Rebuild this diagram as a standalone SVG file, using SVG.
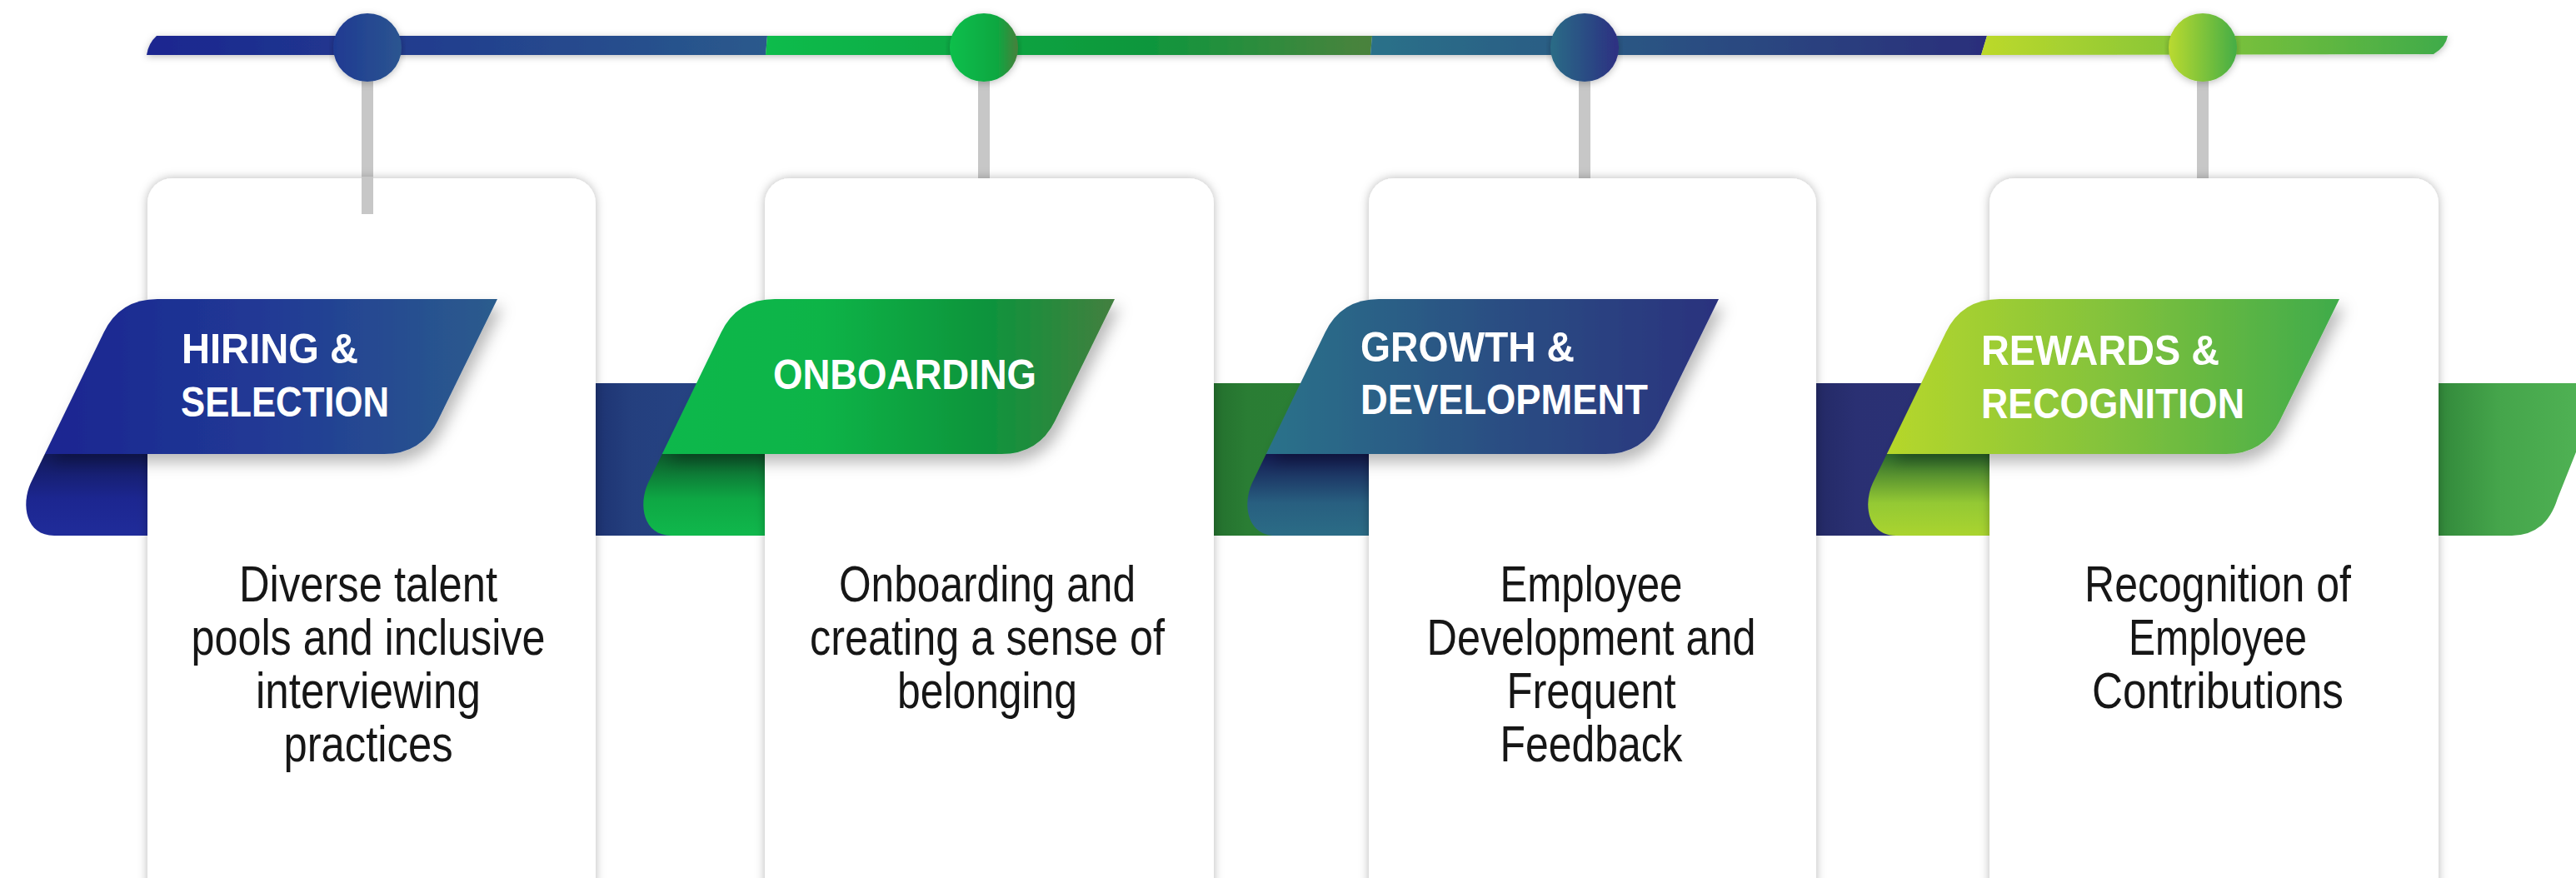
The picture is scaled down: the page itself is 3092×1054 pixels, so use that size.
<svg xmlns="http://www.w3.org/2000/svg" width="3092" height="1054" viewBox="0 0 3092 1054">
  <style>
    .card { fill: #ffffff; filter: url(#cardShadow); }
    .stem { fill: #c7c7c7; }
    .title { font-family: "Liberation Sans", Arial, sans-serif; font-weight: bold; font-size: 50px; fill: #ffffff; }
    .desc { font-family: "Liberation Sans", Arial, sans-serif; font-size: 61px; fill: #161616; text-anchor: middle; }
    .banner { filter: url(#bannerShadow); }
  </style>
  <defs>
    <filter id="cardShadow" x="-10%" y="-10%" width="120%" height="120%">
      <feDropShadow dx="0" dy="0" stdDeviation="6" flood-color="#000" flood-opacity="0.28"/>
    </filter>
    <filter id="bannerShadow" x="-10%" y="-20%" width="130%" height="160%">
      <feDropShadow dx="6" dy="10" stdDeviation="9" flood-color="#000" flood-opacity="0.28"/>
    </filter>
    <filter id="lineShadow" x="-5%" y="-60%" width="110%" height="220%">
      <feDropShadow dx="0" dy="2" stdDeviation="4" flood-color="#000" flood-opacity="0.25"/>
    </filter>

    <!-- ribbon front face and curl, drawn relative to the card's left edge -->
    <path id="face" d="M -52.4 399 Q -33 359 12 359 L 420 359 L 348.5 505 Q 328.9 545 284 545 L -123.2 545 Z"/>
    <path id="curl" d="M -123.2 545 L -140.2 580 C -152 606 -146 643 -112 643 L 2 643 L 2 545 Z"/>

    <!-- timeline segment gradients -->
    <linearGradient id="seg1" x1="0" y1="0" x2="1" y2="0">
      <stop offset="0" stop-color="#1c2690"/>
      <stop offset="1" stop-color="#2a5a8c"/>
    </linearGradient>
    <linearGradient id="seg2" x1="0" y1="0" x2="1" y2="0">
      <stop offset="0" stop-color="#0fbc4c"/>
      <stop offset="0.6" stop-color="#0a983c"/>
      <stop offset="1" stop-color="#4b823e"/>
    </linearGradient>
    <linearGradient id="seg3" x1="0" y1="0" x2="1" y2="0">
      <stop offset="0" stop-color="#2a7189"/>
      <stop offset="1" stop-color="#2c2e7b"/>
    </linearGradient>
    <linearGradient id="seg4" x1="0" y1="0" x2="1" y2="0">
      <stop offset="0" stop-color="#bcd92b"/>
      <stop offset="1" stop-color="#3fab49"/>
    </linearGradient>

    <!-- dot gradients -->
    <linearGradient id="dot1" x1="0" y1="0" x2="1" y2="0">
      <stop offset="0" stop-color="#1f3a92"/>
      <stop offset="1" stop-color="#2b5590"/>
    </linearGradient>
    <linearGradient id="dot2" x1="0" y1="0" x2="1" y2="0">
      <stop offset="0" stop-color="#0dbf4b"/>
      <stop offset="0.7" stop-color="#0ea741"/>
      <stop offset="1" stop-color="#487f3b"/>
    </linearGradient>
    <linearGradient id="dot3" x1="0" y1="0" x2="1" y2="0">
      <stop offset="0" stop-color="#2a6c86"/>
      <stop offset="1" stop-color="#2d2f82"/>
    </linearGradient>
    <linearGradient id="dot4" x1="0" y1="0" x2="1" y2="0">
      <stop offset="0" stop-color="#bada2f"/>
      <stop offset="1" stop-color="#45ad46"/>
    </linearGradient>

    <!-- ribbon face gradients -->
    <linearGradient id="face1" x1="0" y1="0" x2="1" y2="0">
      <stop offset="0" stop-color="#1b2591"/>
      <stop offset="0.5" stop-color="#213a95"/>
      <stop offset="1" stop-color="#2b5c8d"/>
    </linearGradient>
    <linearGradient id="face2" x1="0" y1="0" x2="1" y2="0">
      <stop offset="0" stop-color="#0db84c"/>
      <stop offset="0.35" stop-color="#0bb447"/>
      <stop offset="0.7" stop-color="#0a953c"/>
      <stop offset="1" stop-color="#437f3f"/>
    </linearGradient>
    <linearGradient id="face3" x1="0" y1="0" x2="1" y2="0">
      <stop offset="0" stop-color="#2b728a"/>
      <stop offset="0.5" stop-color="#2b4f83"/>
      <stop offset="1" stop-color="#2c327e"/>
    </linearGradient>
    <linearGradient id="face4" x1="0" y1="0" x2="1" y2="0">
      <stop offset="0" stop-color="#b6d72b"/>
      <stop offset="0.5" stop-color="#82c23c"/>
      <stop offset="1" stop-color="#3fab4a"/>
    </linearGradient>

    <!-- curl gradients: shaded under the fold -->
    <linearGradient id="curl1" x1="0" y1="0" x2="0" y2="1">
      <stop offset="0" stop-color="#121a5c"/>
      <stop offset="0.55" stop-color="#1c2690"/>
      <stop offset="1" stop-color="#202c9a"/>
    </linearGradient>
    <linearGradient id="curl2" x1="0" y1="0" x2="0" y2="1">
      <stop offset="0" stop-color="#0d5a2c"/>
      <stop offset="0.55" stop-color="#0ea744"/>
      <stop offset="1" stop-color="#10b84c"/>
    </linearGradient>
    <linearGradient id="curl3" x1="0" y1="0" x2="0" y2="1">
      <stop offset="0" stop-color="#141a52"/>
      <stop offset="0.6" stop-color="#285f80"/>
      <stop offset="1" stop-color="#2b6c86"/>
    </linearGradient>
    <linearGradient id="curl4" x1="0" y1="0" x2="0" y2="1">
      <stop offset="0" stop-color="#2b6a2c"/>
      <stop offset="0.6" stop-color="#94c934"/>
      <stop offset="1" stop-color="#aad42f"/>
    </linearGradient>

    <!-- back of the ribbon between cards -->
    <linearGradient id="band1" x1="0" y1="0" x2="1" y2="0">
      <stop offset="0" stop-color="#1b2f6e"/>
      <stop offset="0.25" stop-color="#243f7e"/>
      <stop offset="1" stop-color="#28498a"/>
    </linearGradient>
    <linearGradient id="band2" x1="0" y1="0" x2="1" y2="0">
      <stop offset="0" stop-color="#226d2c"/>
      <stop offset="0.25" stop-color="#2a7d34"/>
      <stop offset="1" stop-color="#2b8236"/>
    </linearGradient>
    <linearGradient id="band3" x1="0" y1="0" x2="1" y2="0">
      <stop offset="0" stop-color="#222863"/>
      <stop offset="0.25" stop-color="#2a3073"/>
      <stop offset="1" stop-color="#2b3277"/>
    </linearGradient>
    <linearGradient id="band4" x1="0" y1="0" x2="1" y2="0">
      <stop offset="0" stop-color="#2f8438"/>
      <stop offset="0.4" stop-color="#45a54b"/>
      <stop offset="1" stop-color="#52b556"/>
    </linearGradient>
  </defs>

  <rect x="0" y="0" width="3092" height="1054" fill="#ffffff"/>

  <!-- back of the ribbon, seen between the cards -->
  <g id="ribbon-back">
    <rect x="700" y="460" width="230" height="183" fill="url(#band1)"/>
    <rect x="1445" y="460" width="210" height="183" fill="url(#band2)"/>
    <rect x="2170" y="460" width="230" height="183" fill="url(#band3)"/>
    <path d="M 2915 460 L 3125 460 L 3070 598 Q 3056 643 3015 643 L 2915 643 Z" fill="url(#band4)"/>
  </g>

  <!-- folded ends of the ribbons -->
  <g id="ribbon-curls">
    <use href="#curl" transform="translate(177,0)" fill="url(#curl1)"/>
    <use href="#curl" transform="translate(918,0)" fill="url(#curl2)"/>
    <use href="#curl" transform="translate(1643,0)" fill="url(#curl3)"/>
    <use href="#curl" transform="translate(2388,0)" fill="url(#curl4)"/>
  </g>

  <!-- timeline and stems -->
  <g id="connectors">
    <g filter="url(#lineShadow)">
      <path d="M 188 43 L 921 43 L 919 66 L 176 66 Q 178 52 188 43 Z" fill="url(#seg1)"/>
      <path d="M 921 43 L 1647 43 L 1645 66 L 919 66 Z" fill="url(#seg2)"/>
      <path d="M 1647 43 L 2385 43 L 2378 66 L 1645 66 Z" fill="url(#seg3)"/>
      <path d="M 2385 43 L 2938 43 Q 2936 56 2921 65 L 2378 66 Z" fill="url(#seg4)"/>
    </g>
    <rect class="stem" x="434" y="96" width="14" height="161"/>
    <rect class="stem" x="1174" y="96" width="14" height="118"/>
    <rect class="stem" x="1895" y="96" width="14" height="118"/>
    <rect class="stem" x="2637" y="96" width="14" height="118"/>
  </g>

  <g id="stage-hiring">
    <rect class="card" x="177" y="214" width="538" height="880" rx="30"/>
    <rect class="stem" x="434" y="212" width="14" height="45"/>
    <use href="#face" class="banner" transform="translate(177,0)" fill="url(#face1)"/>
    <text class="title" x="218" y="436" textLength="212" lengthAdjust="spacingAndGlyphs">HIRING &amp;</text>
    <text class="title" x="217" y="500" textLength="250" lengthAdjust="spacingAndGlyphs">SELECTION</text>
    <text class="desc" x="442" y="722" textLength="310" lengthAdjust="spacingAndGlyphs">Diverse talent</text>
    <text class="desc" x="442" y="786" textLength="425" lengthAdjust="spacingAndGlyphs">pools and inclusive</text>
    <text class="desc" x="442" y="850" textLength="270" lengthAdjust="spacingAndGlyphs">interviewing</text>
    <text class="desc" x="442" y="914" textLength="203" lengthAdjust="spacingAndGlyphs">practices</text>
    <circle cx="441" cy="57" r="41" fill="url(#dot1)" filter="url(#lineShadow)"/>
  </g>

  <g id="stage-onboarding">
    <rect class="card" x="918" y="214" width="539" height="880" rx="30"/>
    <use href="#face" class="banner" transform="translate(918,0)" fill="url(#face2)"/>
    <text class="title" x="928" y="467" textLength="316" lengthAdjust="spacingAndGlyphs">ONBOARDING</text>
    <text class="desc" x="1185" y="722" textLength="356" lengthAdjust="spacingAndGlyphs">Onboarding and</text>
    <text class="desc" x="1185" y="786" textLength="426" lengthAdjust="spacingAndGlyphs">creating a sense of</text>
    <text class="desc" x="1185" y="850" textLength="216" lengthAdjust="spacingAndGlyphs">belonging</text>
    <circle cx="1181" cy="57" r="41" fill="url(#dot2)" filter="url(#lineShadow)"/>
  </g>

  <g id="stage-growth">
    <rect class="card" x="1643" y="214" width="537" height="880" rx="30"/>
    <use href="#face" class="banner" transform="translate(1643,0)" fill="url(#face3)"/>
    <text class="title" x="1633" y="434" textLength="257" lengthAdjust="spacingAndGlyphs">GROWTH &amp;</text>
    <text class="title" x="1633" y="497" textLength="345" lengthAdjust="spacingAndGlyphs">DEVELOPMENT</text>
    <text class="desc" x="1910" y="722" textLength="219" lengthAdjust="spacingAndGlyphs">Employee</text>
    <text class="desc" x="1910" y="786" textLength="395" lengthAdjust="spacingAndGlyphs">Development and</text>
    <text class="desc" x="1910" y="850" textLength="203" lengthAdjust="spacingAndGlyphs">Frequent</text>
    <text class="desc" x="1910" y="914" textLength="219" lengthAdjust="spacingAndGlyphs">Feedback</text>
    <circle cx="1902" cy="57" r="41" fill="url(#dot3)" filter="url(#lineShadow)"/>
  </g>

  <g id="stage-rewards">
    <rect class="card" x="2388" y="214" width="539" height="880" rx="30"/>
    <use href="#face" class="banner" transform="translate(2388,0)" fill="url(#face4)"/>
    <text class="title" x="2378" y="438" textLength="286" lengthAdjust="spacingAndGlyphs">REWARDS &amp;</text>
    <text class="title" x="2378" y="502" textLength="316" lengthAdjust="spacingAndGlyphs">RECOGNITION</text>
    <text class="desc" x="2662" y="722" textLength="320" lengthAdjust="spacingAndGlyphs">Recognition of</text>
    <text class="desc" x="2662" y="786" textLength="214" lengthAdjust="spacingAndGlyphs">Employee</text>
    <text class="desc" x="2662" y="850" textLength="302" lengthAdjust="spacingAndGlyphs">Contributions</text>
    <circle cx="2644" cy="57" r="41" fill="url(#dot4)" filter="url(#lineShadow)"/>
  </g>
</svg>
